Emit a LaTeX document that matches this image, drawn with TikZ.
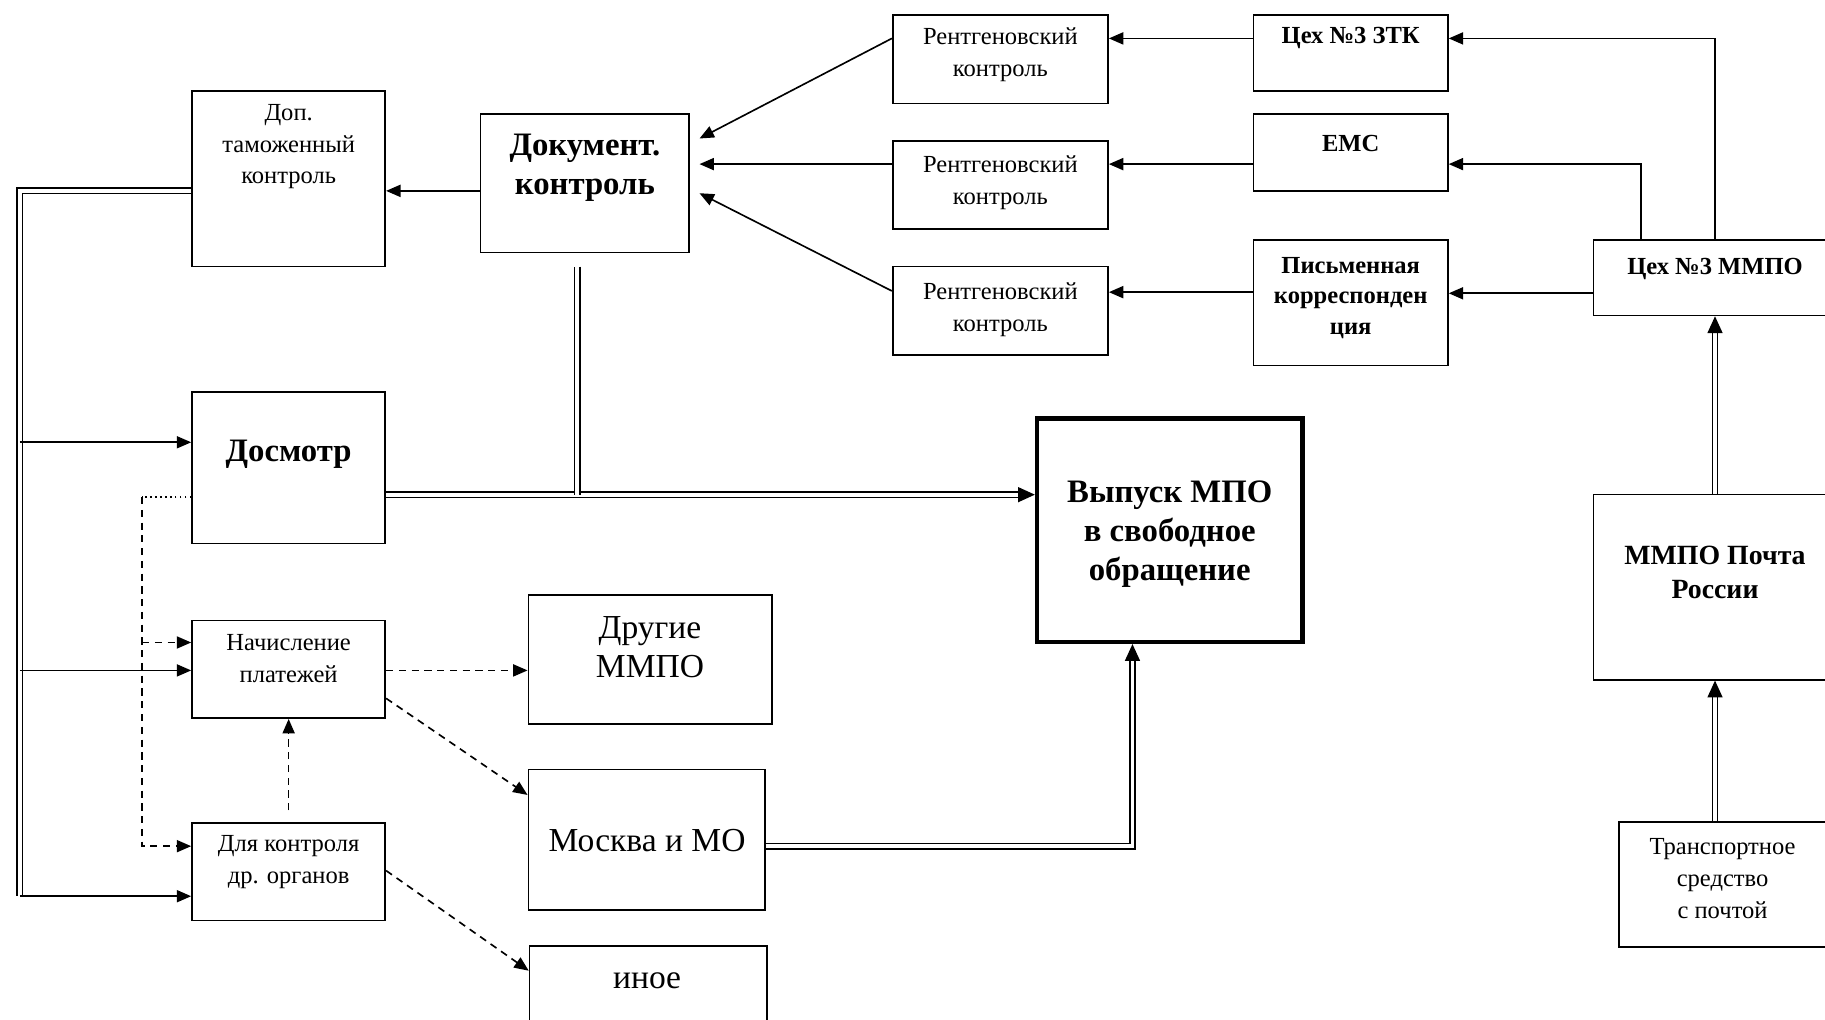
\documentclass[tikz,border=0pt]{standalone}
\usepackage{fontspec}
\setmainfont{Liberation Serif}
\usepackage{tikz}
\usetikzlibrary{arrows.meta,positioning,calc}

\newcommand{\txtS}{\fontsize{15}{19.5}\selectfont}
\newcommand{\txtSb}{\fontsize{15}{18.5}\selectfont\bfseries}
\newcommand{\txtM}{\fontsize{17}{20.6}\selectfont\bfseries}
\newcommand{\txtL}{\fontsize{20.5}{24}\selectfont}
\newcommand{\txtLb}{\fontsize{20}{24}\selectfont\bfseries}

\tikzset{
  box/.style={draw, line width=1pt, inner sep=0pt},
  txt/.style={align=center, inner sep=0pt},
  arr/.style={line width=1pt, -{Triangle[length=0.31cm,width=0.26cm]}},
  dsh/.style={arr, dash pattern=on 4.4pt off 3.4pt},
  dbl/.style={double, line width=0.9pt, double distance=2.4pt},
  dblarr/.style={dbl, -{Triangle[length=0.36cm,width=0.32cm]}},
}

\begin{document}
\begin{tikzpicture}[x=0.025cm, y=-0.025cm]
    \useasboundingbox (0,0) rectangle (1568,876);
    \clip (0,0) rectangle (1568,876);

    % left column
    \node[box, minimum width=4.15cm, minimum height=3.775cm] (dop) at (248,153.5) {};
    \node[txt, font=\txtS] (dopT) at (248,126) {Доп.\\таможенный\\контроль};
    \node[box, minimum width=4.15cm, minimum height=3.25cm] (dosm) at (248,402) {};
    \node[txt, font=\txtLb] (dosmT) at (248,390) {Досмотр};
    \node[box, minimum width=4.15cm, minimum height=2.1cm] (nach) at (248,575) {};
    \node[txt, font=\txtS] (nachT) at (248,566) {Начисление\\платежей};
    \node[box, minimum width=4.15cm, minimum height=2.1cm] (dlya) at (248,749) {};
    \node[txt, font=\txtS] (dlyaT) at (248,741) {Для контроля\\др. органов};

    % document control and results
    \node[box, minimum width=4.475cm, minimum height=2.975cm] (doc) at (502.5,157.5) {};
    \node[txt, font=\txtLb] (docT) at (502.5,144) {Документ.\\контроль};
    \node[box, minimum width=5.225cm, minimum height=2.775cm] (drug) at (558.5,566.5) {};
    \node[txt, font=\txtL] (drugT) at (558.5,556) {Другие\\ММПО};
    \node[box, minimum width=5.075cm, minimum height=3.025cm] (mosk) at (555.5,721.5) {};
    \node[txt, font=\txtL] (moskT) at (556,722) {Москва и МО};
    \node[box, minimum width=5.1cm, minimum height=1.675cm] (inoe) at (557,846.5) {};
    \node[txt, font=\txtL] (inoeT) at (556,843) {иное};

    % x-ray control
    \node[box, minimum width=4.625cm, minimum height=1.9cm] (rk1) at (859.5,51) {};
    \node[txt, font=\txtS] (rk1T) at (859.5,47) {Рентгеновский\\контроль};
    \node[box, minimum width=4.625cm, minimum height=1.9cm] (rk2) at (859.5,159) {};
    \node[txt, font=\txtS] (rk2T) at (859.5,157) {Рентгеновский\\контроль};
    \node[box, minimum width=4.625cm, minimum height=1.9cm] (rk3) at (859.5,267) {};
    \node[txt, font=\txtS] (rk3T) at (859.5,266) {Рентгеновский\\контроль};

    % sorting
    \node[box, minimum width=4.175cm, minimum height=1.625cm] (zeh) at (1160.5,45.5) {};
    \node[txt, font=\txtSb] (zehT) at (1160.5,33) {Цех №3 ЗТК};
    \node[box, minimum width=4.175cm, minimum height=1.65cm] (ems) at (1160.5,131) {};
    \node[txt, font=\txtSb] (emsT) at (1160.5,123) {ЕМС};
    \node[box, minimum width=4.175cm, minimum height=2.7cm] (pism) at (1160.5,260) {};
    \node[txt, font=\txtSb] (pismT) at (1160.5,256) {Письменная\\корреспонден\\ция};

    % release
    \node[box, line width=2.6pt, minimum width=5.7cm, minimum height=4.8cm] (vyp) at (1005,455.5) {};
    \node[txt, font=\txtLb] (vypT) at (1005,459) {Выпуск МПО\\в свободное\\обращение};

    % right column
    \node[box, minimum width=5.225cm, minimum height=1.625cm] (cmmpo) at (1473.5,238.5) {};
    \node[txt, font=\txtSb] (cmmpoT) at (1473.5,231) {Цех №3 ММПО};
    \node[box, minimum width=5.225cm, minimum height=3.975cm] (pochta) at (1473.5,504.5) {};
    \node[txt, font=\txtM] (pochtaT) at (1473.5,491.5) {ММПО Почта\\России};
    \node[box, minimum width=4.525cm, minimum height=2.675cm] (trans) at (1481.5,760) {};
    \node[txt, font=\txtS] (transT) at (1480,755) {Транспортное\\средство\\с почтой};

    % trunk on the left
    \coordinate (tTop) at (17,164);
    \coordinate (tBot) at (17,770);
    \coordinate (t1) at (17,380);
    \coordinate (t2) at (17,576);
    \draw[dbl] (dop.west |- tTop) -- (tTop) -- (tBot);
    \draw[arr] (t1) -- (dosm.west |- t1);
    \draw[arr] (t2) -- (nach.west |- t2);
    \draw[arr] (tBot) -- (dlya.west |- tBot);
    \draw[arr] (doc.west |- tTop) -- (dop.east |- tTop);

    % dashed links
    \coordinate (d0) at (122,427);
    \coordinate (d1) at (122,552);
    \coordinate (d2) at (122,727);
    \draw[line width=1pt, dotted] (dosm.west |- d0) -- (d0);
    \draw[dsh] (d0) -- (d2) -- (dlya.west |- d2);
    \draw[dsh] (d1) -- (nach.west |- d1);
    \draw[dsh] (nach.east |- t2) -- (drug.west |- t2);
    \draw[dsh] (nach.east |- 0,600) -- (mosk.west |- 0,683);
    \draw[dsh] (dlya.east |- 0,748) -- (inoe.west |- 0,834);
    \draw[dsh] ([yshift=0.25cm]dlya.north) -- (nach.south);

    % x-ray to document control
    \coordinate (in1) at (601,119);
    \coordinate (in2) at (601,141);
    \coordinate (in3) at (601,166);
    \coordinate (c1) at (1410,141);
    \coordinate (c2) at (1473.5,33);
    \draw[arr] (rk1.west |- c2) -- (in1);
    \draw[arr] (rk2.west |- c1) -- (in2);
    \draw[arr] (rk3.west |- 0,250) -- (in3);
    \draw[arr] (zeh.west |- c2) -- (rk1.east |- c2);
    \draw[arr] (ems.west |- c1) -- (rk2.east |- c1);
    \draw[arr] (pism.west |- 0,251) -- (rk3.east |- 0,251);
    \draw[arr] (cmmpo.west |- 0,252) -- (pism.east |- 0,252);
    \draw[arr] (c1 |- cmmpo.north) -- (c1) -- (ems.east |- c1);
    \draw[arr] (cmmpo.north) -- (c2) -- (zeh.east |- c2);

    % double flows
    \coordinate (j) at (496,425);
    \coordinate (mv) at (973,727);
    \draw[dblarr] (dosm.east |- j) -- (vyp.west |- j);
    \draw[dbl] (j |- 0,229) -- (j);
    \draw[dblarr] (mosk.east |- mv) -- (mv) -- (mv |- vyp.south);
    \draw[dblarr] (pochta.north) -- (cmmpo.south);
    \draw[dblarr] (c2 |- trans.north) -- (pochta.south);
\end{tikzpicture}
\end{document}
